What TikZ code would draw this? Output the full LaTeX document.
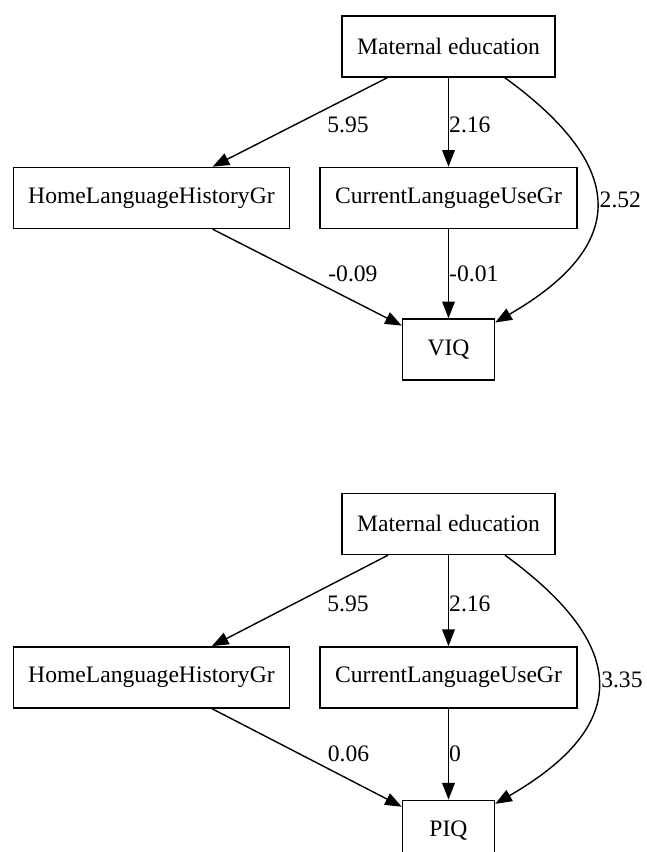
\documentclass[tikz,border=0pt]{standalone}
\usepackage{fontspec}
\setmainfont{Liberation Serif}
\usetikzlibrary{arrows.meta,positioning}

\begin{document}
\begin{tikzpicture}[
  x=0.75pt, y=0.75pt,
  font=\fontsize{17.7}{21}\selectfont,
  var/.style={draw, line width=1.1pt, minimum height=45.75pt,
              minimum width=69pt, inner xsep=11.25pt},
  coef/.style={inner sep=0pt},
  arrow/.style={-{Triangle[length=12.5pt,width=9.5pt]}, line width=1.05pt}
]
  \path[use as bounding box] (0,0) rectangle (646,-852);
  \clip (0,0) rectangle (646,-852);

  % verbal IQ model
  \node[var] (mat1) at (448.5,-46.5) {Maternal education};
  \node[var, below=66.75pt of mat1] (cur1) {CurrentLanguageUseGr};
  \node[var, left=21.75pt of cur1] (home1) {HomeLanguageHistoryGr};
  \node[var, below=66.75pt of cur1] (viq) {VIQ};

  \draw[arrow] (mat1) -- node[coef, pos=0.53, right=24pt] {5.95} (home1);
  \draw[arrow] (mat1) -- node[coef, pos=0.53, right=0pt] {2.16} (cur1);
  \draw[arrow] (mat1.-29) to[out=-36, in=30, looseness=1.6]
    node[coef, pos=0.48, right=2pt] {2.52} (viq);
  \draw[arrow] (home1) -- node[coef, pos=0.46, right=21pt] {-0.09} (viq);
  \draw[arrow] (cur1) -- node[coef, pos=0.5, right=0pt] {-0.01} (viq);

  % performance IQ model
  \node[var, below=84pt of viq] (mat2) {Maternal education};
  \node[var, below=68.25pt of mat2] (cur2) {CurrentLanguageUseGr};
  \node[var, left=21.75pt of cur2] (home2) {HomeLanguageHistoryGr};
  \node[var, below=68.25pt of cur2] (piq) {PIQ};

  \draw[arrow] (mat2) -- node[coef, pos=0.53, right=24pt] {5.95} (home2);
  \draw[arrow] (mat2) -- node[coef, pos=0.53, right=0pt] {2.16} (cur2);
  \draw[arrow] (mat2.-29) to[out=-36, in=30, looseness=1.6]
    node[coef, pos=0.48, right=2pt] {3.35} (piq);
  \draw[arrow] (home2) -- node[coef, pos=0.46, right=21pt] {0.06} (piq);
  \draw[arrow] (cur2) -- node[coef, pos=0.5, right=0pt] {0} (piq);
\end{tikzpicture}
\end{document}
